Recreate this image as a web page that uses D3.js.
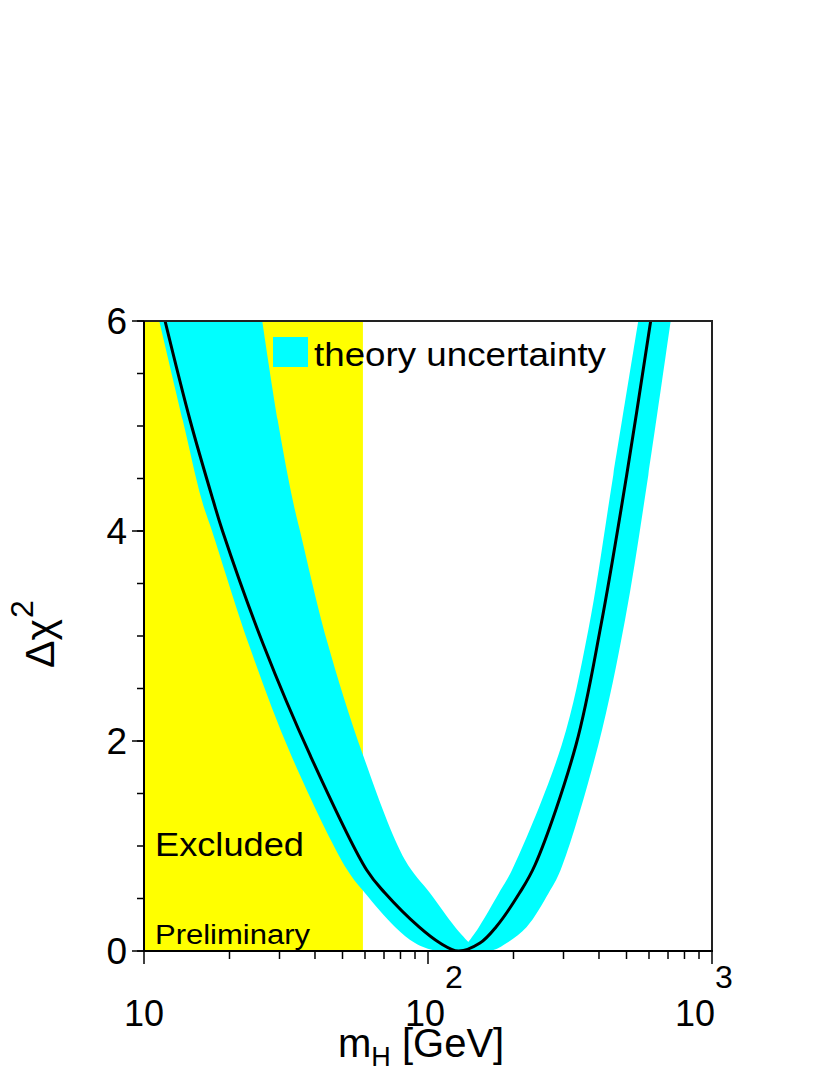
<!DOCTYPE html>
<html><head><meta charset="utf-8">
<script src="https://cdn.jsdelivr.net/npm/d3@7"></script>
<style>body{margin:0;background:#fff}svg{display:block}text{font-family:"Liberation Sans",Arial,sans-serif;fill:#000}</style>
</head><body><svg id="c" width="830" height="1075"></svg>
<script>
// ---- data (mH in GeV, delta chi2) ----
const excludedLimit = 59;              // direct search exclusion (GeV)
const central = [[11.86,6],[14.52,5.057],[17.50,4.295],[18.90,4.0],[26.35,2.914],[38.42,1.867],[60.83,0.771],[70.56,0.552],[92.97,0.229],[110.2,0.076],[127.8,0],[152.4,0.076],[173.6,0.229],[210.0,0.552],[238.1,0.819],[331.9,1.962],[406.6,3.105],[500.8,4.533],[608.3,6]];
// outer edge of theory band: top-left -> bottom -> top-right
const bandOuter = [[11.32,6],[13.69,5.057],[15.97,4.295],[17.36,4.0],[23.43,2.914],[32.94,1.867],[52.0,0.771],[60.0,0.552],[76.54,0.229],[90.01,0.076],[107.6,0],[165.3,0],[189.3,0.076],[222.6,0.229],[266.0,0.552],[293.0,0.771],[397.8,1.962],[494.0,3.152],[596.8,4.533],[715.4,6]];
// inner edge, left branch (top -> V notch)
const bandInnerLeft = [[26.09,6],[29.56,5.057],[33.39,4.295],[35.43,4.0],[43.99,2.962],[59.03,1.867],[82.99,0.867],[101.6,0.552],[124.5,0.229],[138.7,0.086]];
// inner edge, right branch (V notch -> top)
const bandInnerRight = [[138.7,0.086],[151.2,0.229],[177.8,0.552],[197.6,0.771],[295.6,1.962],[366.8,3.057],[449.2,4.533],[550.2,6]];
const yMajor = [0,2,4,6];
const yMinor = d3.range(0,6.01,0.5);
const xMajor = [10,100,1000];
const xMinor = [20,30,40,50,60,70,80,90,200,300,400,500,600,700,800,900];
const xLabels = [["10",""],["10","2"],["10","3"]];

// ---- layout ----
const L=144,R=712,T=321,B=951;
const svg=d3.select("#c");
const x=d3.scaleLog().domain([10,1000]).range([L,R]);
const y=d3.scaleLinear().domain([0,6]).range([B,T]);

svg.append("defs").append("clipPath").attr("id","pc").append("rect")
  .attr("x",L).attr("y",T).attr("width",R-L).attr("height",B-T);
const g=svg.append("g").attr("clip-path","url(#pc)");

g.append("rect").attr("x",x(10)).attr("y",T).attr("width",x(excludedLimit)-x(10)).attr("height",B-T).attr("fill","#ffff00");

const ln=d3.line().x(d=>x(d[0])).y(d=>y(d[1])).curve(d3.curveCatmullRom.alpha(0.5));
const p1=ln(bandOuter);
const p2=ln(bandInnerRight.slice().reverse()).replace(/^M/,"L");
const p3=ln(bandInnerLeft.slice().reverse()).replace(/^M/,"L");
g.append("path").attr("d",p1+p2+p3+"Z").attr("fill","#00ffff");

g.append("path").attr("d",ln(central)).attr("fill","none").attr("stroke","#000").attr("stroke-width",3);

// frame
svg.append("path").attr("d",`M${L},${T}H${R}V${B}`).attr("fill","none").attr("stroke","#222").attr("stroke-width",2);
svg.append("line").attr("x1",L).attr("x2",L).attr("y1",T).attr("y2",B+1).attr("stroke","#000").attr("stroke-width",2);
svg.append("line").attr("x1",L-1).attr("x2",R+1).attr("y1",B).attr("y2",B).attr("stroke","#000").attr("stroke-width",2);

// y ticks
svg.selectAll(".ym").data(yMinor).join("line").attr("x1",L-7).attr("x2",L).attr("y1",d=>y(d)).attr("y2",d=>y(d)).attr("stroke","#000").attr("stroke-width",1.5);
svg.selectAll(".yM").data(yMajor).join("line").attr("x1",L-12).attr("x2",L).attr("y1",d=>y(d)).attr("y2",d=>y(d)).attr("stroke","#000").attr("stroke-width",1.5);
svg.selectAll(".yl").data(yMajor).join("text").attr("x",127).attr("y",d=>y(d)+13).attr("text-anchor","end").attr("font-size",37).text(d=>d);

// x ticks
svg.selectAll(".xm").data(xMinor).join("line").attr("x1",d=>x(d)).attr("x2",d=>x(d)).attr("y1",B).attr("y2",B+8).attr("stroke","#000").attr("stroke-width",1.5);
svg.selectAll(".xM").data(xMajor).join("line").attr("x1",d=>x(d)).attr("x2",d=>x(d)).attr("y1",B).attr("y2",B+13).attr("stroke","#000").attr("stroke-width",1.5);
const xOff=[0,-23,-37];
xMajor.forEach((v,i)=>{
  const t=svg.append("text").attr("x",x(v)+xOff[i]).attr("y",1026).attr("font-size",36).attr("text-anchor",xLabels[i][1]?"start":"middle");
  t.append("tspan").text(xLabels[i][0]);
  if(xLabels[i][1]) t.append("tspan").attr("dy",-38).attr("font-size",32).text(xLabels[i][1]);
});

// axis titles
const xt=svg.append("text").attr("x",338).attr("y",1057).attr("font-size",40);
xt.append("tspan").text("m");
xt.append("tspan").attr("dy",9).attr("font-size",27).text("H");
xt.append("tspan").attr("dy",-9).text(" [GeV]");

const yt=svg.append("text").attr("transform","translate(54,668) rotate(-90)").attr("font-size",41);
yt.append("tspan").text("Δχ");
yt.append("tspan").attr("dx",1).attr("dy",-21).attr("font-size",32).text("2");

// legend
svg.append("rect").attr("x",273).attr("y",337).attr("width",35).attr("height",30).attr("fill","#00ffff");
svg.append("text").attr("x",314).attr("y",366).attr("font-size",34).attr("textLength",292).attr("lengthAdjust","spacingAndGlyphs").text("theory uncertainty");

svg.append("text").attr("x",155).attr("y",856).attr("font-size",33).attr("textLength",149).attr("lengthAdjust","spacingAndGlyphs").text("Excluded");
svg.append("text").attr("x",155).attr("y",944).attr("font-size",27).attr("textLength",155).attr("lengthAdjust","spacingAndGlyphs").text("Preliminary");
</script></body></html>
